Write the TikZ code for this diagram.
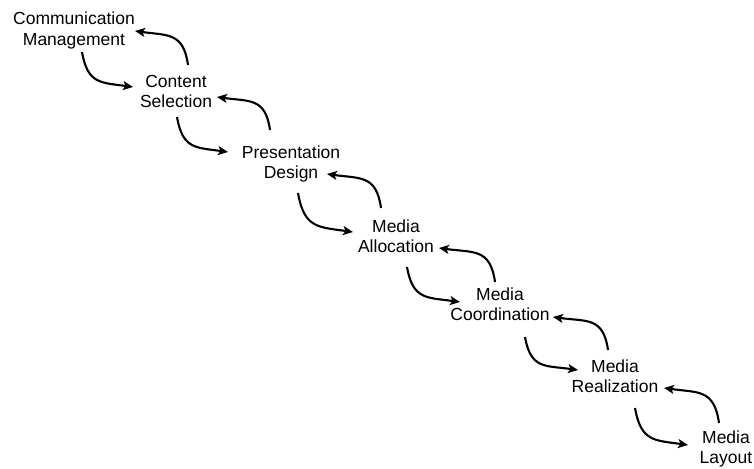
\documentclass[tikz,border=0pt]{standalone}
\usepackage{fontspec}
\setmainfont{Liberation Sans}
\usetikzlibrary{arrows.meta,calc}
\begin{document}
\begin{tikzpicture}[x=1pt,y=-1pt,
  lbl/.style={align=center,inner sep=0pt,anchor=base,font=\fontsize{17.5}{20.5}\selectfont},
  flow/.style={line width=2.1pt,-{Stealth[length=10pt,width=9pt,inset=2.5pt]}},
  down/.style={flow,out=-80,in=172,looseness=1.35},
  back/.style={flow,out=98,in=-8,looseness=1.35}]
\useasboundingbox (0,0) rectangle (754,468);
\node[lbl] (cm) at (74,45.5) {Communication\\Management};
\node[lbl] (cs) at (176,107.5) {Content\\Selection};
\node[lbl] (pd) at (291,178.5) {Presentation\\Design};
\node[lbl] (ma) at (396,252.5) {Media\\Allocation};
\node[lbl] (mc) at (500,320.5) {Media\\Coordination};
\node[lbl] (mr) at (615,392.5) {Media\\Realization};
\node[lbl] (ml) at (726,463.5) {Media\\Layout};
% forward
\draw[down] ($(cm.base)+(8,6.5)$) to ($(cs.base)+(-43,-20.5)$);
\draw[down] ($(cs.base)+(1,9.5)$) to ($(pd.base)+(-63,-26.5)$);
\draw[down] ($(pd.base)+(7,14.5)$) to ($(ma.base)+(-43,-20.5)$);
\draw[down] ($(ma.base)+(11,14.5)$) to ($(mc.base)+(-40,-18.5)$);
\draw[down] ($(mc.base)+(25,16.5)$) to ($(mr.base)+(-37,-22.5)$);
\draw[down] ($(mr.base)+(20,15.5)$) to ($(ml.base)+(-38,-18.5)$);
% backward
\draw[back] ($(cs.base)+(12,-42.5)$) to ($(cm.base)+(61,-14.5)$);
\draw[back] ($(pd.base)+(-21,-48.5)$) to ($(cs.base)+(41,-10.5)$);
\draw[back] ($(ma.base)+(-15,-44.5)$) to ($(pd.base)+(36,-4.5)$);
\draw[back] ($(mc.base)+(-5,-38.5)$) to ($(ma.base)+(43,-4.5)$);
\draw[back] ($(mr.base)+(-7,-42.5)$) to ($(mc.base)+(53,-3.5)$);
\draw[back] ($(ml.base)+(-7,-40.5)$) to ($(mr.base)+(49,-4.5)$);
\end{tikzpicture}
\end{document}
